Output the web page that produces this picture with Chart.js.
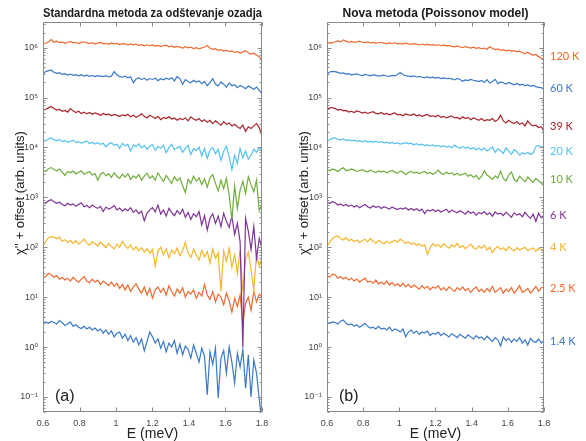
<!DOCTYPE html>
<html><head><meta charset="utf-8">
<script src="https://cdn.jsdelivr.net/npm/chart.js@4.4.1/dist/chart.umd.min.js"></script>
<style>
html,body{margin:0;padding:0;background:#fff;}
#wrap{position:relative;width:586px;height:441px;overflow:hidden;}
canvas{position:absolute;top:0;}
</style></head><body>
<div id="wrap">
<canvas id="ca" width="290" height="441" style="left:0"></canvas>
<canvas id="cb" width="302" height="441" style="left:284px"></canvas>
</div>
<script>
// ---------- data ----------
const E = [0.6,0.615,0.63,0.645,0.66,0.675,0.69,0.705,0.72,0.735,
0.75,0.765,0.78,0.795,0.81,0.825,0.84,0.855,0.87,0.885,
0.9,0.915,0.93,0.945,0.96,0.975,0.99,1.005,1.02,1.035,
1.05,1.065,1.08,1.095,1.11,1.125,1.14,1.155,1.17,1.185,
1.2,1.215,1.23,1.245,1.26,1.275,1.29,1.305,1.32,1.335,
1.35,1.365,1.38,1.395,1.41,1.425,1.44,1.455,1.47,1.485,
1.5,1.515,1.53,1.545,1.56,1.575,1.59,1.605,1.62,1.635,
1.65,1.665,1.68,1.695,1.71,1.725,1.74,1.755,1.77,1.785,1.8];

const xTickValues = [0.6,0.8,1,1.2,1.4,1.6,1.8];
const xTickLabels = ['0.6','0.8','1','1.2','1.4','1.6','1.8'];
const yTickValues = [0.1,1,10,100,1000,1e4,1e5,1e6];
const yTickLabels = ['10⁻¹','10⁰','10¹','10²','10³','10⁴','10⁵','10⁶'];
const temps = ['120 K','60 K','39 K','20 K','10 K','6 K','4 K','2.5 K','1.4 K'];
const tempLabelAt = [6.6e5,1.5e5,2.6e4,8.2e3,2.25e3,430,97,14.7,1.27];

// (a) standard background subtraction
const std120 = [1.18e6,1.22e6,1.30e6,1.45e6,1.28e6,1.34e6,1.26e6,1.30e6,1.22e6,1.28e6,
1.32e6,1.25e6,1.28e6,1.21e6,1.27e6,1.31e6,1.24e6,1.20e6,1.26e6,1.18e6,
1.23e6,1.27e6,1.19e6,1.22e6,1.16e6,1.24e6,1.19e6,1.21e6,1.15e6,1.20e6,
1.17e6,1.13e6,1.19e6,1.14e6,1.18e6,1.11e6,1.15e6,1.09e6,1.14e6,1.10e6,
1.13e6,1.07e6,1.11e6,1.05e6,1.09e6,1.12e6,1.04e6,1.08e6,1.01e6,1.06e6,
1.02e6,9.8e5,1.04e6,9.9e5,1.02e6,9.6e5,1.0e6,9.4e5,9.9e5,1.03e6,
1.10e6,9.7e5,9.2e5,9.5e5,8.8e5,9.1e5,8.5e5,8.9e5,8.3e5,8.6e5,
8.0e5,8.4e5,7.8e5,8.2e5,8.7e5,7.9e5,7.4e5,7.7e5,7.0e5,6.6e5,5.6e5];
const std60 = [3.0e5,3.3e5,3.45e5,3.52e5,3.2e5,3.05e5,3.15e5,2.9e5,3.0e5,2.82e5,
2.95e5,2.78e5,2.86e5,2.72e5,2.88e5,2.7e5,2.8e5,2.65e5,2.76e5,2.62e5,
2.74e5,2.68e5,2.62e5,2.75e5,2.58e5,2.68e5,3.3e5,2.85e5,2.62e5,2.55e5,
2.68e5,2.48e5,2.6e5,1.98e5,2.35e5,2.5e5,2.28e5,2.45e5,2.22e5,2.4e5,
2.3e5,2.45e5,2.18e5,2.38e5,2.26e5,2.44e5,2.32e5,2.5e5,2.15e5,2.62e5,
2.4e5,1.85e5,2.28e5,2.1e5,1.98e5,2.22e5,2.04e5,2.15e5,1.9e5,2.1e5,
1.72e5,1.98e5,2.38e5,1.86e5,1.7e5,2.05e5,1.85e5,1.6e5,1.95e5,1.72e5,
1.8e5,1.58e5,1.75e5,1.65e5,1.5e5,1.7e5,1.58e5,1.45e5,1.62e5,1.4e5,1.18e5];
const std39 = [5.5e4,5.8e4,6.2e4,6.6e4,6.0e4,5.6e4,5.8e4,5.3e4,5.5e4,5.1e4,
6.0e4,5.4e4,5.0e4,5.3e4,4.8e4,5.1e4,4.7e4,5.0e4,4.6e4,4.9e4,
4.7e4,4.4e4,4.8e4,4.5e4,4.7e4,4.3e4,4.6e4,4.4e4,4.2e4,4.5e4,
4.3e4,4.6e4,4.1e4,4.4e4,4.0e4,4.3e4,4.7e4,4.2e4,3.9e4,4.4e4,
4.1e4,3.8e4,4.2e4,3.6e4,4.0e4,3.8e4,4.1e4,3.7e4,3.9e4,3.5e4,
3.8e4,3.6e4,3.9e4,3.4e4,4.1e4,3.7e4,3.5e4,3.8e4,3.3e4,3.6e4,
3.2e4,3.5e4,3.0e4,3.4e4,3.1e4,2.8e4,3.3e4,2.9e4,3.1e4,2.7e4,
2.9e4,2.6e4,2.4e4,2.8e4,2.1e4,2.6e4,2.4e4,2.7e4,3.0e4,2.5e4,1.7e4];
const std20 = [1.40e4,1.35e4,1.48e4,1.55e4,1.42e4,1.36e4,1.45e4,1.30e4,1.38e4,1.27e4,
1.33e4,1.40e4,1.25e4,1.31e4,1.22e4,1.28e4,1.35e4,1.20e4,1.26e4,1.17e4,
1.24e4,1.15e4,1.21e4,1.03e4,1.18e4,1.24e4,1.10e4,1.16e4,9.6e3,1.20e4,
1.08e4,1.15e4,8.5e3,1.12e4,1.04e4,1.18e4,9.8e3,1.10e4,9.2e3,1.06e4,
1.14e4,8.8e3,1.04e4,9.6e3,1.10e4,7.8e3,1.0e4,1.15e4,9.0e3,9.8e3,
1.05e4,8.0e3,9.6e3,1.10e4,7.2e3,9.4e3,8.6e3,1.02e4,6.8e3,9.5e3,
6.0e3,8.8e3,1.0e4,7.5e3,9.2e3,5.5e3,8.4e3,1.05e4,6.6e3,3.6e3,
7.0e3,4.8e3,9.5e3,6.2e3,8.5e3,5.8e3,7.0e3,9.2e3,8.0e3,9.8e3,8.5e3];
const std10 = [3500,3300,3750,3950,3600,3400,3700,3200,2750,3300,
3100,3350,2950,3150,3400,2900,3100,3250,2800,3000,
2200,2900,3150,2700,2950,2500,3100,2650,2400,2900,
2550,3000,2300,2700,2450,2850,2200,2650,3050,2400,
2700,2200,3100,2500,2100,2750,2300,1900,2600,2150,
2450,1700,1250,2300,1900,2650,2100,2450,1800,2350,
1600,2500,2850,1900,1350,2200,1500,2400,1100,360,
1700,600,1400,2100,1200,2600,1800,1300,2200,550,700];
const std6 = [800,760,850,900,820,760,800,720,680,760,
700,740,660,720,780,650,690,620,700,640,
600,660,520,640,580,620,680,560,610,530,
590,540,620,500,560,470,530,340,480,560,
620,510,700,460,560,420,600,500,430,540,
460,580,400,500,360,470,410,520,280,430,
220,380,470,300,420,260,480,330,250,420,
180,300,130,1.0,380,210,90,260,60,150,95];
const std4 = [105,130,155,165,158,148,160,132,142,125,
138,120,135,115,128,145,122,110,130,118,
105,126,112,98,118,104,92,115,100,132,
108,95,112,88,102,85,98,80,94,76,
90,42,84,100,70,92,62,88,74,96,
68,85,124,78,62,92,70,55,86,64,
82,48,92,60,78,13,85,52,96,40,
70,30,88,13,58,80,35,14,72,42,60];
const std25 = [24,26,30,28,25,27,23,25,22,24,
21,25,22,20,23,26,21,19.5,23,20,
22,18,21,19,17,20,16.5,19,15,18,
14,17.5,13,16,18.5,14.5,12,16,11,15,
9.5,14,16,12.5,15,11,17,13,10.5,14.5,
12,15.5,10,13,11.5,14,9.5,12.5,10.5,18,
11,9,13,8,11.5,10,7,12,8.5,5,
9.5,6.5,11,3,7.5,10,5.5,13,8,11.5,10];
const std14 = [3.1,3.2,3.0,3.25,3.1,2.9,3.4,3.1,2.7,2.9,
3.2,2.6,2.8,2.5,2.35,2.6,2.3,2.5,2.2,2.4,
2.1,2.3,1.9,2.2,1.8,2.1,1.6,1.9,2.0,1.5,
1.8,1.35,1.7,1.25,1.55,1.1,1.45,0.85,1.3,2.0,
1.6,1.2,1.45,0.95,1.3,0.8,1.2,1.0,1.35,0.75,
1.15,0.7,1.05,0.9,0.6,1.1,0.75,0.5,0.95,0.65,
0.11,0.8,0.45,0.95,0.095,0.6,0.85,0.3,1.0,0.5,
0.19,0.75,0.4,0.9,0.15,0.7,0.1,0.55,0.3,0.09,0.03];

// (b) new method (Poisson model)
const new120 = [1.22e6,1.26e6,1.24e6,1.31e6,1.36e6,1.30e6,1.42e6,1.35e6,1.28e6,1.33e6,
1.27e6,1.30e6,1.35e6,1.28e6,1.26e6,1.30e6,1.24e6,1.27e6,1.22e6,1.25e6,
1.28e6,1.23e6,1.20e6,1.24e6,1.21e6,1.25e6,1.19e6,1.22e6,1.18e6,1.24e6,
1.19e6,1.16e6,1.20e6,1.17e6,1.13e6,1.18e6,1.14e6,1.17e6,1.12e6,1.15e6,
1.11e6,1.14e6,1.09e6,1.12e6,1.08e6,1.11e6,1.06e6,1.04e6,1.08e6,1.03e6,
1.0e6,1.05e6,1.01e6,9.8e5,1.02e6,9.7e5,1.0e6,9.5e5,9.8e5,9.3e5,
1.04e6,9.6e5,9.1e5,9.4e5,8.8e5,9.1e5,8.6e5,8.9e5,8.4e5,8.7e5,
8.2e5,8.5e5,7.9e5,7.6e5,8.1e5,7.4e5,7.1e5,7.3e5,6.6e5,6.2e5,5.7e5];
const new60 = [3.0e5,3.25e5,3.35e5,3.3e5,3.18e5,3.05e5,3.12e5,2.95e5,3.0e5,2.85e5,
2.9e5,2.98e5,2.83e5,2.76e5,2.9e5,2.8e5,2.72e5,2.84e5,2.78e5,2.68e5,
2.74e5,2.82e5,2.7e5,2.65e5,2.77e5,2.71e5,2.9e5,3.18e5,2.85e5,2.75e5,
2.68e5,2.62e5,2.7e5,2.58e5,2.64e5,2.55e5,2.5e5,2.6e5,2.48e5,2.56e5,
2.45e5,2.52e5,2.4e5,2.48e5,2.38e5,2.43e5,2.36e5,2.25e5,2.42e5,2.3e5,
2.12e5,2.25e5,2.18e5,2.3e5,2.22e5,2.15e5,2.08e5,2.2e5,2.0e5,2.28e5,
1.95e5,2.1e5,2.32e5,1.9e5,2.05e5,1.98e5,1.86e5,2.0e5,1.9e5,1.8e5,
1.92e5,1.78e5,1.85e5,1.72e5,1.8e5,1.68e5,1.75e5,1.65e5,1.6e5,1.58e5,1.45e5];
const new39 = [5.8e4,6.2e4,6.3e4,6.0e4,5.6e4,5.8e4,5.4e4,5.5e4,5.1e4,5.3e4,
5.0e4,5.4e4,5.2e4,4.9e4,5.1e4,4.8e4,5.0e4,5.2e4,4.8e4,4.7e4,
5.0e4,4.6e4,4.8e4,4.5e4,4.7e4,4.9e4,4.5e4,4.6e4,4.3e4,4.7e4,
4.5e4,4.4e4,4.7e4,4.3e4,4.5e4,4.2e4,4.4e4,4.6e4,4.2e4,4.3e4,
4.1e4,4.4e4,4.0e4,4.2e4,3.9e4,4.1e4,4.3e4,3.9e4,4.0e4,3.7e4,
4.1e4,3.8e4,4.0e4,3.6e4,3.9e4,3.7e4,3.5e4,3.8e4,3.4e4,3.6e4,
3.5e4,3.8e4,3.3e4,3.6e4,4.4e4,3.4e4,3.1e4,3.5e4,3.2e4,3.0e4,
3.3e4,2.9e4,3.1e4,2.7e4,3.4e4,2.9e4,2.7e4,2.8e4,2.5e4,2.6e4,2.1e4];
const new20 = [1.35e4,1.42e4,1.52e4,1.55e4,1.46e4,1.40e4,1.48e4,1.38e4,1.42e4,1.35e4,
1.40e4,1.33e4,1.37e4,1.30e4,1.36e4,1.28e4,1.32e4,1.27e4,1.34e4,1.26e4,
1.30e4,1.24e4,1.28e4,1.21e4,1.26e4,1.19e4,1.23e4,1.17e4,1.21e4,1.25e4,
1.18e4,1.22e4,1.13e4,1.19e4,1.11e4,1.16e4,1.09e4,1.14e4,1.07e4,1.12e4,
1.05e4,1.10e4,1.03e4,1.08e4,1.01e4,1.06e4,9.8e3,1.10e4,1.02e4,9.6e3,
1.04e4,9.7e3,1.01e4,9.3e3,9.9e3,9.0e3,9.6e3,8.8e3,9.7e3,8.5e3,
9.3e3,1.02e4,8.0e3,9.4e3,8.6e3,7.6e3,9.8e3,8.4e3,7.2e3,9.0e3,
8.2e3,7.0e3,7.8e3,7.4e3,8.0e3,7.2e3,7.7e3,1.04e4,1.10e4,1.00e4,1.06e4];
const new10 = [3600,3400,3700,3550,3300,3650,3900,3450,3500,3700,
3550,3300,3450,3600,3350,3250,3500,3300,3150,3400,
3250,3350,3100,3300,3450,3200,3050,3350,3200,2850,
3150,3300,3050,3200,3000,3150,3300,3000,3150,2900,
3100,3500,3050,2850,3200,2950,3100,2800,3050,2750,
2900,3050,2650,2850,2500,2750,2300,2650,3400,2800,
2550,2300,2700,2450,3350,2400,2150,2800,3200,2300,
2050,2650,2350,2050,2550,2250,2000,2400,2150,1950,1650];
const new6 = [790,760,820,780,700,740,680,720,660,700,
640,690,620,670,720,650,610,680,630,660,
600,650,620,580,640,600,570,610,580,620,
560,600,550,590,540,580,470,560,530,570,
520,560,510,540,580,500,550,520,490,540,
500,460,530,480,510,440,500,470,520,450,
490,420,510,460,480,430,500,450,400,490,
440,470,410,500,430,380,460,330,480,390,440];
const new4 = [105,125,150,162,168,150,140,155,135,145,
130,140,125,135,145,128,150,132,120,138,
126,118,132,122,128,138,125,146,130,120,
128,115,122,110,118,106,112,72,98,118,
105,114,100,118,104,96,112,102,120,98,
108,94,104,116,98,92,106,96,110,88,
100,78,94,104,90,98,86,102,92,84,
98,88,94,100,86,92,97,84,95,88,91];
const new25 = [27,25,29,28,24,26,23,25,22,24,
21,23,20,22,24,20,21,19,22,18.5,
20,18,21,17.5,19.5,17,18.5,16.5,19,16,
18,15.5,17.5,16,14.5,17,15,16.5,14,16,
15,17,14,15.5,13.5,16,14.5,13,15.5,14,
16,13.5,15,12.5,14.5,16,13,14.5,12.5,15,
13,16.5,12.5,14,15.5,12,14.5,13,15.5,12,
14,17,12.5,13.5,15,12,14,16.5,13,15.5,16];
const new14 = [3.1,3.0,3.2,3.1,2.9,3.3,3.5,3.0,2.8,2.9,
2.6,2.8,2.5,2.7,3.0,2.6,2.4,2.5,2.3,2.6,
2.3,2.4,2.2,2.5,2.1,2.3,2.2,2.0,2.3,1.6,
2.0,2.2,1.9,2.1,1.8,2.0,1.9,2.1,1.7,1.9,
1.8,2.0,1.7,1.9,1.75,1.6,1.85,1.7,1.55,1.8,
1.65,1.5,1.75,1.6,1.45,1.7,1.5,1.6,1.4,1.65,
1.45,1.3,1.55,1.4,1.05,1.6,1.35,1.5,1.25,1.45,
1.3,1.55,1.2,1.4,1.1,1.5,1.3,1.25,1.45,1.2,1.35];

// ---------- styles ----------
const COLORS = ['#EE6A2F','#3A78C8','#A8232B','#55C1F0','#6EAC3C','#7E3396','#F7B52C','#EE6A2F','#3A78C8'];
const FONT = "'Liberation Sans', Arial, 'DejaVu Sans', sans-serif";

function datasets(list){
  return list.map((vals,k)=>({
    label: temps[k],
    data: vals.map((v,i)=>({x:E[i], y:v})),
    borderColor: COLORS[k], backgroundColor: COLORS[k],
    borderWidth: 1.2, pointRadius: 0, tension: 0, fill: false
  }));
}

function makeChart(id, list, title, tag, padRight, showTemps){
  const deco = {
    id: 'deco'+id,
    afterDraw(chart){
      const {ctx, chartArea:a, scales:{x,y}} = chart;
      ctx.save();
      // frame + inner ticks
      ctx.strokeStyle = '#8a8a8a'; ctx.lineWidth = 1;
      const L = Math.round(a.left)+0.5, R = Math.round(a.right)-0.5, T = Math.round(a.top)+0.5, B = Math.round(a.bottom)-0.5;
      ctx.strokeRect(L, T, R-L, B-T);
      ctx.beginPath();
      xTickValues.forEach(v=>{
        const px = Math.round(x.getPixelForValue(v))+0.5;
        ctx.moveTo(px,B); ctx.lineTo(px,B-4); ctx.moveTo(px,T); ctx.lineTo(px,T+4);
      });
      for (let d=-2; d<=6; d++) for (let m=1; m<=9; m++){
        const v = m*Math.pow(10,d);
        if (v < y.min || v > y.max) continue;
        const py = Math.round(y.getPixelForValue(v))+0.5;
        const len = m===1 ? 4 : 2;
        ctx.moveTo(L,py); ctx.lineTo(L+len,py); ctx.moveTo(R,py); ctx.lineTo(R-len,py);
      }
      ctx.stroke();
      // y title
      ctx.save();
      ctx.translate(a.left-23, 193);
      ctx.rotate(-Math.PI/2);
      ctx.fillStyle = '#222'; ctx.font = '13px '+FONT;
      ctx.textAlign = 'center'; ctx.textBaseline = 'middle';
      ctx.fillText("χ'' + offset (arb. units)", 0, 0);
      ctx.restore();
      // panel tag
      ctx.fillStyle = '#222'; ctx.font = '16px '+FONT;
      ctx.textAlign = 'left'; ctx.textBaseline = 'middle';
      ctx.fillText(tag, a.left+12, 397);
      // temperature labels
      if (showTemps){
        ctx.font = "11px Lato, 'Open Sans', sans-serif";
        temps.forEach((t,k)=>{
          ctx.fillStyle = COLORS[k];
          ctx.fillText(t, a.right+6, y.getPixelForValue(tempLabelAt[k]));
        });
      }
      ctx.restore();
    }
  };
  return new Chart(document.getElementById(id), {
    type: 'line',
    data: { datasets: datasets(list) },
    options: {
      responsive: false, animation: false, devicePixelRatio: 1,
      layout: { padding: { left: 0, right: padRight, top: 0, bottom: 0 } },
      plugins: {
        legend: { display: false }, tooltip: { enabled: false },
        title: { display: true, text: title, fullSize: false, color: '#1a1a1a',
          font: { family: FONT, size: 12, weight: 'bold' }, padding: { top: 6, bottom: 2 } }
      },
      scales: {
        x: {
          type: 'linear', min: 0.6, max: 1.8, bounds: 'data',
          afterBuildTicks: s => { s.ticks = xTickValues.map(v=>({value:v})); },
          afterFit: s => { s.height = 29; },
          ticks: { callback: (v,i) => xTickLabels[i], autoSkip: false, maxRotation: 0,
            font: { family: FONT, size: 9 }, color: '#444', padding: 6 },
          grid: { display: false, drawTicks: false }, border: { display: false },
          title: { display: true, text: 'E (meV)', color: '#222', font: { family: FONT, size: 14 }, padding: { top: 0, bottom: -2 } }
        },
        y: {
          type: 'logarithmic', min: 0.05, max: 3.2e6, bounds: 'data',
          afterBuildTicks: s => { s.ticks = yTickValues.map(v=>({value:v})); },
          afterFit: s => { s.width = 43; },
          ticks: { callback: (v,i) => yTickLabels[i], autoSkip: false,
            font: { family: FONT, size: 9 }, color: '#444', padding: 5 },
          grid: { display: false, drawTicks: false }, border: { display: false }
        }
      }
    },
    plugins: [deco]
  });
}

makeChart('ca', [std120,std60,std39,std20,std10,std6,std4,std25,std14],
  'Standardna metoda za odštevanje ozadja', '(a)', 28, false);
makeChart('cb', [new120,new60,new39,new20,new10,new6,new4,new25,new14],
  'Nova metoda (Poissonov model)', '(b)', 42, true);
</script>
</body></html>
